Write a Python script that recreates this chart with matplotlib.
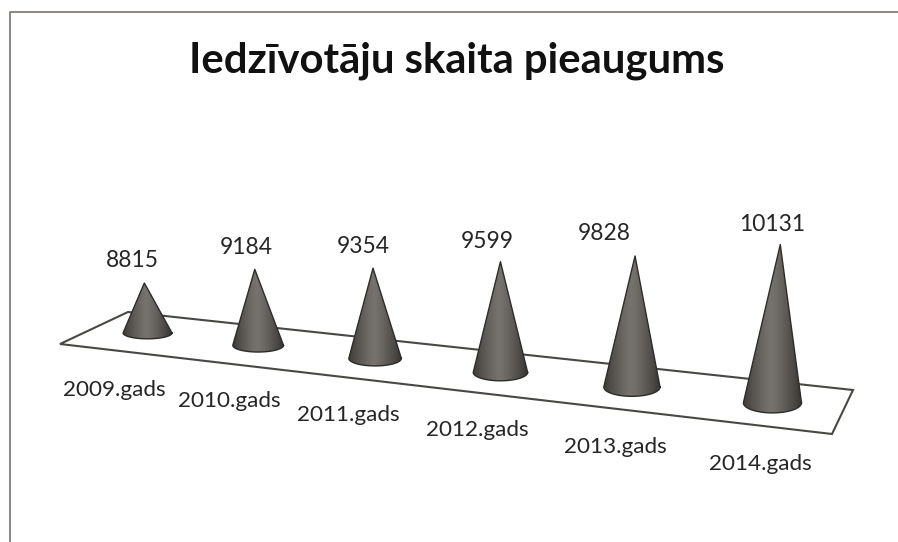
import numpy as np
import matplotlib
matplotlib.use("Agg")
import matplotlib.pyplot as plt
from matplotlib.patches import Polygon

# ---- data ----
title = "Iedzīvotāju skaita pieaugums"
categories = ["2009.gads", "2010.gads", "2011.gads", "2012.gads", "2013.gads", "2014.gads"]
values = [8815, 9184, 9354, 9599, 9828, 10131]

# ---- layout of the 3D projection (pixels) ----
W, H = 898, 542
floor_corners = np.array([[128, 312], [853, 390], [832, 434], [60, 344]], float)  # back-L, back-R, front-R, front-L
VAL_BASE, PX_PER_VAL = 8026.0, 0.0634
DEPTH = 0.49
SLOTS = [0.08, 0.245, 0.411, 0.58, 0.748, 0.918]
LABEL_OFFSET = [(-12, -23), (-9, -22), (-10, -22), (-13, -20), (-31, -22), (-8, -20)]
CAT_POS = [(114, 390), (229, 401), (348, 415), (477, 430), (615, 447), (760, 464)]


def homography(dst):
    src = [(0, 0), (1, 0), (1, 1), (0, 1)]
    A, b = [], []
    for (x, y), (u, v) in zip(src, dst):
        A.append([x, y, 1, 0, 0, 0, -u * x, -u * y]); b.append(u)
        A.append([0, 0, 0, x, y, 1, -v * x, -v * y]); b.append(v)
    return np.append(np.linalg.solve(np.array(A), np.array(b)), 1).reshape(3, 3)


M = homography(floor_corners)


def project(x, y):
    p = M @ np.array([x, y, 1.0])
    return p[:2] / p[2]


def half_width(s):
    return 24 + 5.5 * s


def tip_of(s, v):
    bx, by = project(s, DEPTH)
    h = (v - VAL_BASE) * PX_PER_VAL * half_width(s) / 24.5
    return bx + h * (bx - 500) / 5500, by - h


plt.rcParams["font.family"] = ["Lato", "DejaVu Sans"]
fig = plt.figure(figsize=(W / 100, H / 100), dpi=100)
ax = fig.add_axes([0, 0, 1, 1])
ax.axis("off")

# chart frame
ax.plot([9.5, 9.5, W], [H, 12, 12], color="#8a8784", lw=1.4, zorder=1)

# floor
ax.add_patch(Polygon(floor_corners, closed=True, fc="white", ec="#4a4845", lw=1.5, zorder=2))

# cones: horizontal gradient clipped to the cone silhouette
dark, light = np.array([0x3a, 0x38, 0x35]) / 255, np.array([0x76, 0x72, 0x6e]) / 255
u = np.linspace(-1, 1, 200)
shade = np.clip(1 - np.abs(u + 0.05) ** 1.3, 0, 1)[None, :, None]
gradient = dark[None, None, :] + (light - dark)[None, None, :] * shade
for s, v in zip(SLOTS, values):
    bx, by = project(s, DEPTH)
    a = half_width(s)
    b = 5.5 + 5 * s
    tip = np.array(tip_of(s, v))
    th = np.linspace(0, np.pi, 61)
    arc = np.column_stack([bx + a * np.cos(th), by + b * np.sin(th)])
    outline = np.vstack([arc, tip, arc[:1]])
    img = ax.imshow(gradient, extent=(bx - a, bx + a, by + b + 1, tip[1] - 1),
                    aspect="auto", zorder=3, interpolation="bilinear")
    img.set_clip_path(Polygon(outline, closed=True, transform=ax.transData))
    ax.plot(outline[:, 0], outline[:, 1], color="#2e2c2a", lw=1.0, zorder=4, solid_joinstyle="round")

# value labels
for s, v, (dx, dy) in zip(SLOTS, values, LABEL_OFFSET):
    tx, ty = tip_of(s, v)
    ax.text(tx + dx, ty + dy, str(v), ha="center", va="center", fontsize=16.4, color="#262626", zorder=5)

# category labels
for c, (x, y) in zip(categories, CAT_POS):
    ax.text(x, y, c, ha="center", va="center", fontsize=16.2, color="#262626", zorder=5)

ax.text(457, 61, title, ha="center", va="center", fontsize=30.2, fontweight="bold", color="#111111", zorder=5)

ax.set_xlim(0, W)
ax.set_ylim(H, 0)
fig.savefig("out.png", dpi=100)
